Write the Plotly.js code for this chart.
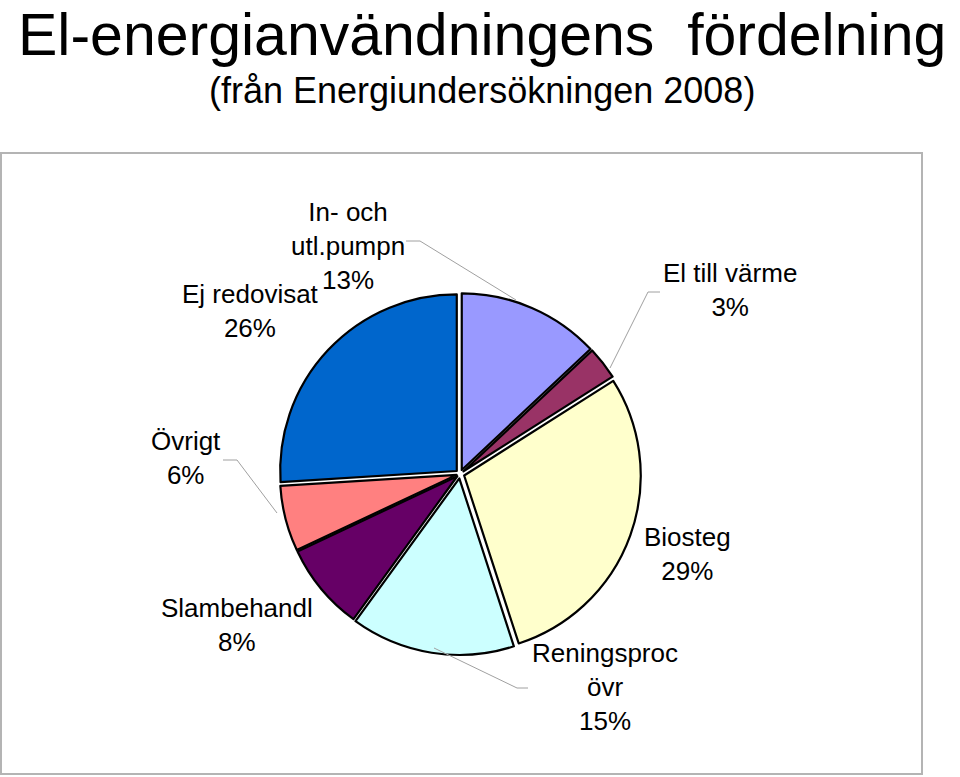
<!DOCTYPE html>
<html>
<head>
<meta charset="utf-8">
<script src="https://cdn.plot.ly/plotly-3.0.1.min.js"></script>
<style>
  html, body { margin: 0; padding: 0; background: #ffffff; }
  #chart { width: 960px; height: 777px; }
</style>
</head>
<body>
<div id="chart"></div>
<script>
// ---- Data ----
const categories = ['In- och utl.pumpn', 'El till värme', 'Biosteg', 'Reningsproc övr', 'Slambehandl', 'Övrigt', 'Ej redovisat'];
const labelLines = ['In- och<br>utl.pumpn', 'El till värme', 'Biosteg', 'Reningsproc<br>övr', 'Slambehandl', 'Övrigt', 'Ej redovisat'];
const shares = [13, 3, 29, 15, 8, 6, 26];
const sliceColors = ['#9999FF', '#993366', '#FFFFCC', '#CCFFFF', '#660066', '#FF8080', '#0066CC'];
const titleText = 'El-energianvändningens\u00a0\u00a0fördelning';
const subtitleText = '(från Energiundersökningen 2008)';

// ---- Layout helpers (pixel -> paper) ----
const W = 960, H = 777;
const px = x => x / W;
const py = y => 1 - y / H;

// label block centres (pixels)
const labelPos = [[348, 246], [730, 290], [687, 554], [605, 687], [237, 625], [186, 458], [250, 311]];

const labelFont = { family: '"Liberation Sans", Arial, sans-serif', size: 26, color: '#000000' };

const annotations = categories.map((c, i) => ({
  xref: 'paper', yref: 'paper',
  x: px(labelPos[i][0]), y: py(labelPos[i][1]),
  xanchor: 'center', yanchor: 'middle',
  text: labelLines[i] + '<br>' + shares[i] + '%',
  showarrow: false, align: 'center', font: labelFont
}));

annotations.push({
  xref: 'paper', yref: 'paper', x: px(482), y: py(0),
  xanchor: 'center', yanchor: 'top', showarrow: false,
  text: titleText,
  font: { family: '"Liberation Sans", Arial, sans-serif', size: 59, color: '#000000' }
});
annotations.push({
  xref: 'paper', yref: 'paper', x: px(482), y: py(68),
  xanchor: 'center', yanchor: 'top', showarrow: false,
  text: subtitleText,
  font: { family: '"Liberation Sans", Arial, sans-serif', size: 36, color: '#000000' }
});

function leader(points) {
  let d = 'M ' + px(points[0][0]) + ' ' + py(points[0][1]);
  for (let k = 1; k < points.length; k++) d += ' L ' + px(points[k][0]) + ' ' + py(points[k][1]);
  return { type: 'path', xref: 'paper', yref: 'paper', path: d, line: { color: '#a0a0a0', width: 1 } };
}

const shapes = [
  { type: 'rect', xref: 'paper', yref: 'paper', x0: px(1), x1: px(922), y0: py(774), y1: py(153),
    line: { color: '#b4b4b4', width: 2 }, fillcolor: 'rgba(0,0,0,0)', layer: 'below' },
  leader([[406, 241], [420, 241], [516, 300]]),
  leader([[660, 292], [648, 292], [610, 368]]),
  leader([[223, 460], [237, 460], [277, 513]]),
  leader([[528, 688], [517, 688], [434, 648]])
];

const trace = {
  type: 'pie',
  labels: categories,
  values: shares,
  sort: false,
  direction: 'clockwise',
  rotation: 0,
  pull: [0.025, 0.025, 0.025, 0.025, 0.02, 0.02, 0.025],
  marker: { colors: sliceColors, line: { color: '#000000', width: 2.2 } },
  textinfo: 'none',
  hoverinfo: 'label+percent',
  showlegend: false,
  domain: { x: [px(278), px(642)], y: [py(655), py(293)] }
};

const layout = {
  width: W, height: H,
  margin: { l: 0, r: 0, t: 0, b: 0 },
  paper_bgcolor: '#ffffff',
  plot_bgcolor: '#ffffff',
  showlegend: false,
  annotations: annotations,
  shapes: shapes
};

Plotly.newPlot('chart', [trace], layout, { displayModeBar: false, staticPlot: true });
</script>
</body>
</html>
